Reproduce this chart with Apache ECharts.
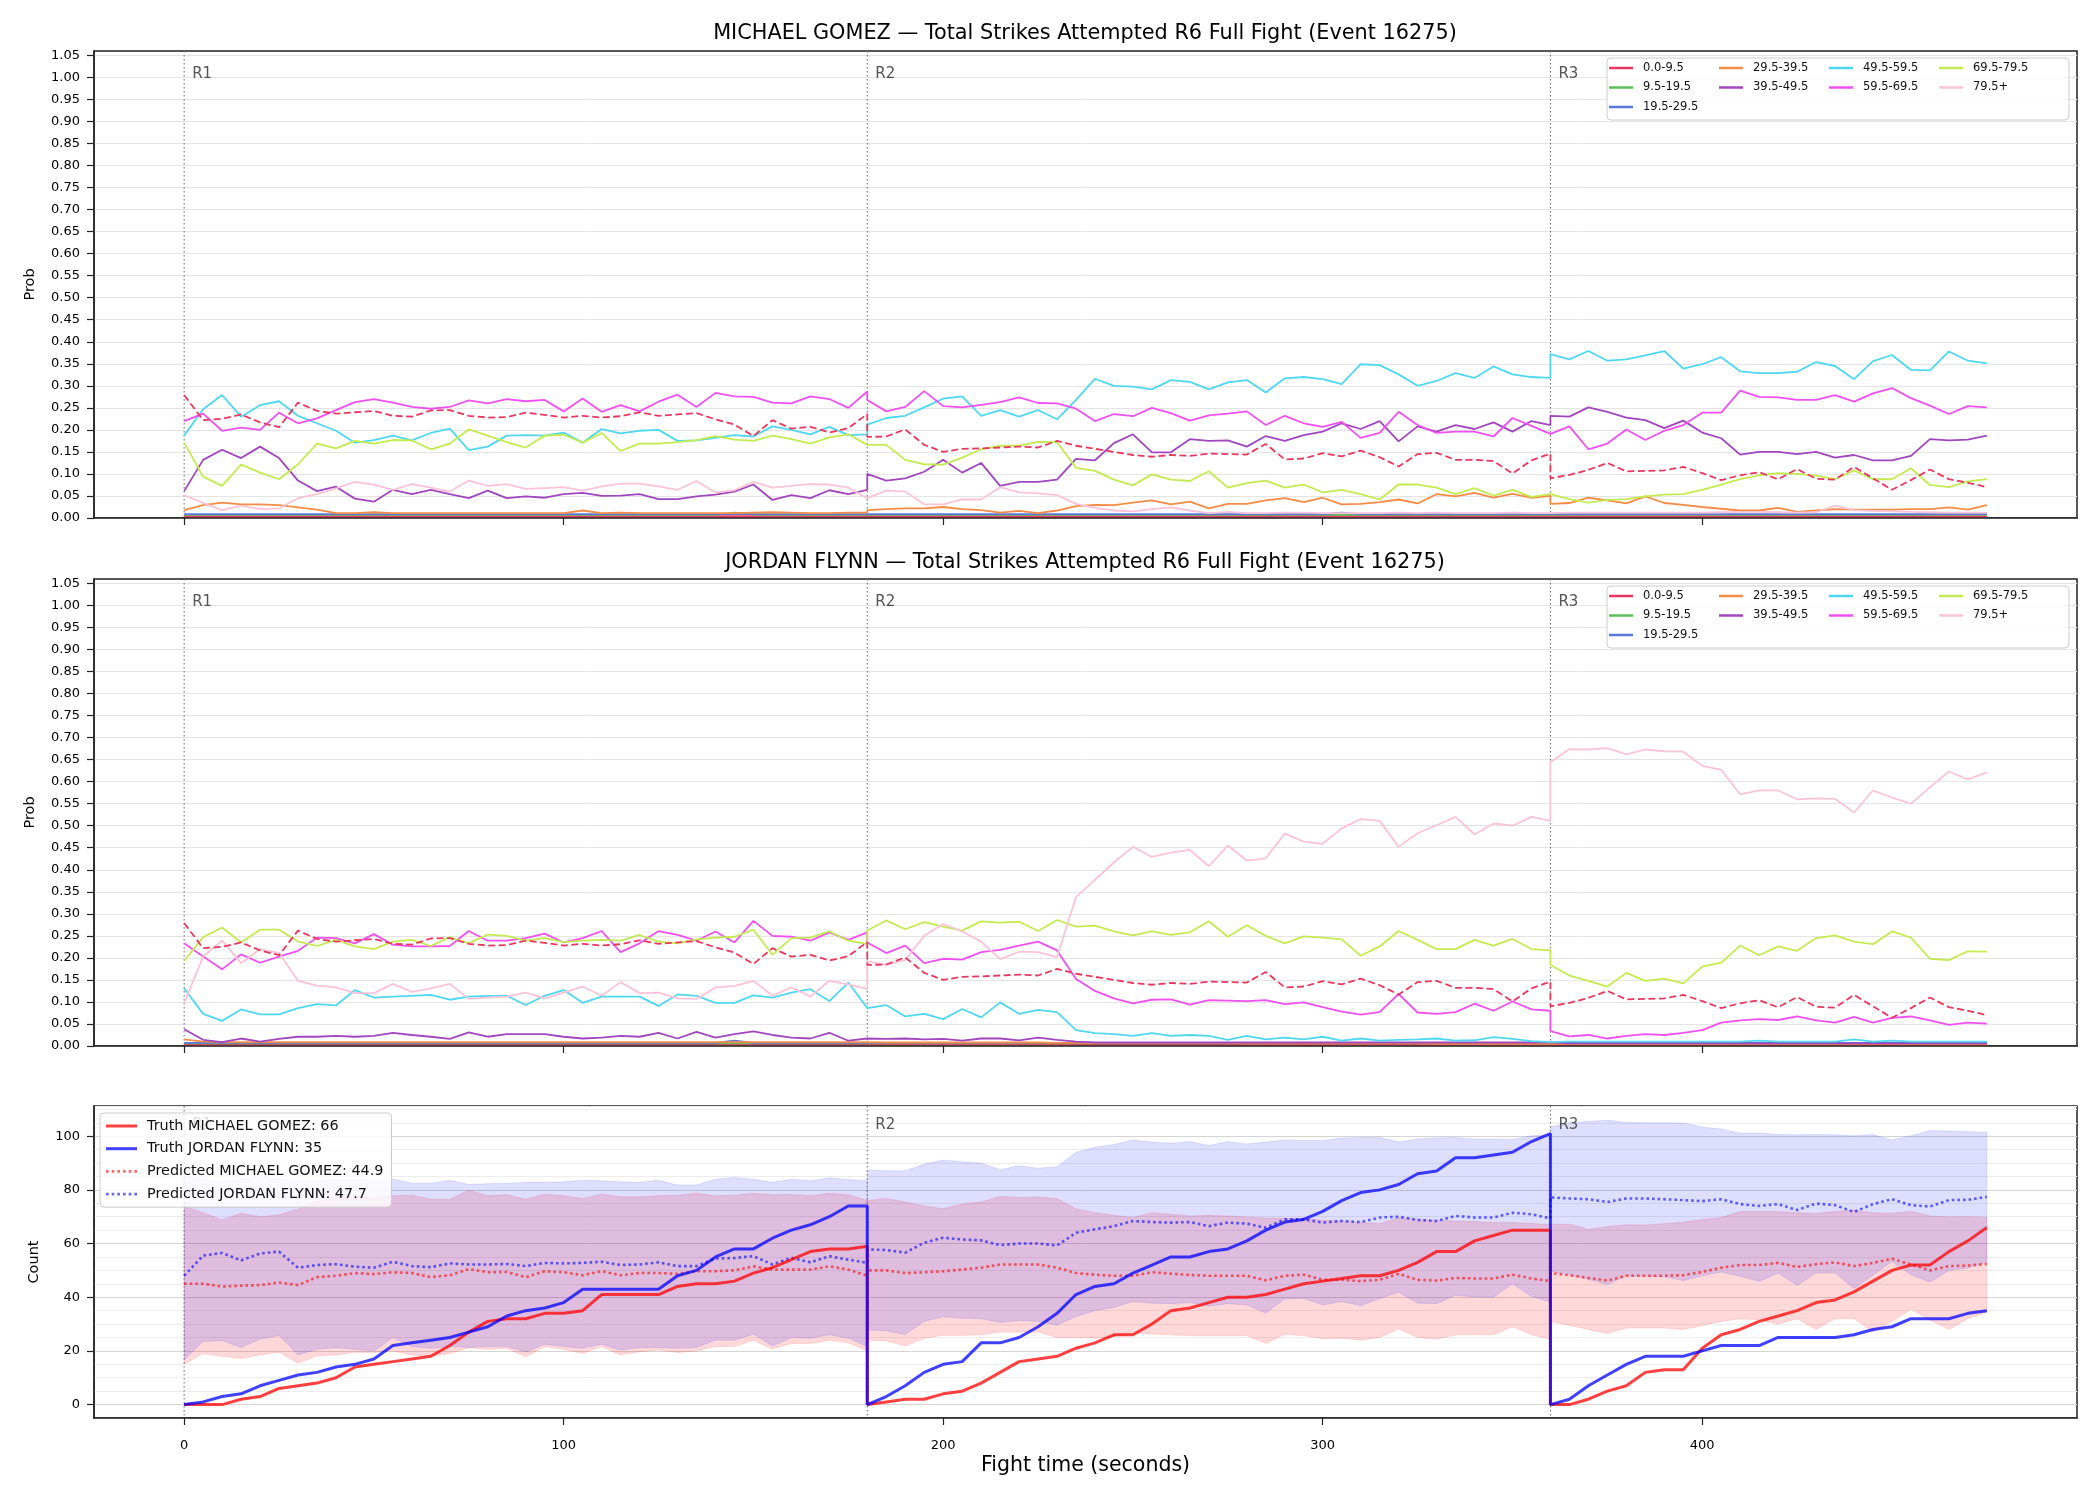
<!DOCTYPE html>
<html>
<head>
<meta charset="utf-8">
<title>Total Strikes Attempted R6 Full Fight</title>
<script src="https://cdn.jsdelivr.net/npm/echarts@6/dist/echarts.min.js"></script>
<style>
html, body { margin: 0; padding: 0; background: #fff; }
#chart { width: 2100px; height: 1500px; }
</style>
</head>
<body>
<div id="chart"></div>
<script>
// rounds and sampling of the fight clock (seconds)
var roundStart = [0, 180, 360];
var roundEnd = [180, 360, 475];
var roundLabels = ['R1', 'R2', 'R3'];
var sampleStep = 5;
var timeTicks = [0, 100, 200, 300, 400];
var probTicks = [0, 0.05, 0.1, 0.15, 0.2, 0.25, 0.3, 0.35, 0.4, 0.45, 0.5, 0.55, 0.6, 0.65, 0.7, 0.75, 0.8, 0.85, 0.9, 0.95, 1.0, 1.05];
var countTicks = [0, 20, 40, 60, 80, 100];

var probBins = ['0.0-9.5', '9.5-19.5', '19.5-29.5', '29.5-39.5', '39.5-49.5', '49.5-59.5', '59.5-69.5', '69.5-79.5', '79.5+'];
var binColors = ['#e8385e', '#5cbf5c', '#5a78dc', '#f58c46', '#a046be', '#50d7f0', '#f050f0', '#c3eb50', '#fac3d7'];

// ---- MICHAEL GOMEZ bin probabilities (R1 | R2 | R3) ----
var gomezBin0 = [].concat(
  [0.004,0.004,0.004,0.004,0.004,0.004,0.004,0.004,0.004,0.004,0.004,0.004,0.004,0.004,0.004,0.004,0.004,0.004,0.004,0.004,0.004,0.004,0.004,0.004,0.004,0.004,0.004,0.004,0.004,0.004,0.004,0.004,0.004,0.004,0.004,0.004,0.004],
  [0.004,0.004,0.004,0.004,0.004,0.004,0.004,0.004,0.004,0.004,0.004,0.004,0.004,0.004,0.004,0.004,0.004,0.004,0.004,0.004,0.004,0.004,0.004,0.004,0.004,0.004,0.004,0.004,0.004,0.004,0.004,0.004,0.004,0.004,0.004,0.004,0.004],
  [0.004,0.004,0.004,0.004,0.004,0.004,0.004,0.004,0.004,0.004,0.004,0.004,0.004,0.004,0.004,0.004,0.004,0.004,0.004,0.004,0.004,0.004,0.004,0.004]);
var gomezBin1 = [].concat(
  [0.007,0.007,0.007,0.007,0.007,0.007,0.007,0.007,0.007,0.007,0.007,0.007,0.007,0.007,0.007,0.007,0.007,0.007,0.007,0.007,0.007,0.007,0.007,0.007,0.007,0.007,0.007,0.007,0.007,0.012,0.008,0.007,0.007,0.007,0.007,0.007,0.007],
  [0.007,0.007,0.007,0.007,0.007,0.007,0.007,0.007,0.007,0.007,0.007,0.007,0.007,0.007,0.007,0.007,0.007,0.007,0.007,0.007,0.007,0.007,0.007,0.007,0.007,0.007,0.007,0.007,0.007,0.007,0.007,0.007,0.007,0.007,0.007,0.007,0.007],
  [0.007,0.007,0.007,0.007,0.007,0.007,0.007,0.007,0.007,0.007,0.007,0.007,0.007,0.007,0.007,0.007,0.007,0.007,0.007,0.007,0.007,0.007,0.007,0.007]);
var gomezBin2 = [].concat(
  [0.009,0.009,0.009,0.009,0.009,0.009,0.009,0.009,0.009,0.009,0.009,0.009,0.009,0.009,0.009,0.009,0.009,0.009,0.009,0.009,0.009,0.009,0.009,0.009,0.009,0.009,0.009,0.009,0.009,0.009,0.009,0.009,0.009,0.009,0.009,0.009,0.009],
  [0.009,0.009,0.009,0.009,0.009,0.009,0.009,0.009,0.009,0.009,0.009,0.009,0.009,0.009,0.009,0.009,0.009,0.009,0.009,0.009,0.009,0.009,0.009,0.009,0.009,0.012,0.009,0.009,0.009,0.009,0.009,0.009,0.009,0.009,0.009,0.009,0.009],
  [0.009,0.009,0.009,0.009,0.009,0.009,0.009,0.009,0.009,0.009,0.009,0.009,0.009,0.009,0.009,0.009,0.009,0.009,0.009,0.009,0.009,0.009,0.009,0.009]);
var gomezBin3 = [].concat(
  [0.018,0.029,0.035,0.031,0.031,0.029,0.024,0.019,0.011,0.011,0.013,0.011,0.011,0.011,0.011,0.011,0.011,0.011,0.011,0.011,0.011,0.017,0.011,0.012,0.011,0.011,0.011,0.011,0.011,0.011,0.012,0.013,0.012,0.011,0.011,0.012,0.012],
  [0.018,0.020,0.022,0.022,0.025,0.020,0.018,0.012,0.016,0.011,0.017,0.027,0.030,0.029,0.035,0.040,0.031,0.037,0.022,0.032,0.032,0.040,0.045,0.036,0.046,0.031,0.032,0.036,0.042,0.033,0.054,0.049,0.057,0.046,0.055,0.046,0.050],
  [0.032,0.034,0.046,0.040,0.033,0.049,0.034,0.030,0.025,0.021,0.017,0.017,0.023,0.014,0.017,0.020,0.019,0.019,0.019,0.020,0.020,0.024,0.019,0.029]);
var gomezBin4 = [].concat(
  [0.061,0.132,0.155,0.136,0.162,0.136,0.085,0.061,0.071,0.044,0.037,0.064,0.054,0.064,0.054,0.045,0.062,0.045,0.049,0.046,0.054,0.057,0.050,0.051,0.054,0.043,0.043,0.049,0.053,0.060,0.076,0.041,0.052,0.045,0.063,0.054,0.064],
  [0.100,0.085,0.090,0.105,0.132,0.103,0.125,0.073,0.082,0.082,0.087,0.134,0.131,0.170,0.190,0.149,0.149,0.179,0.175,0.176,0.162,0.186,0.175,0.188,0.196,0.215,0.202,0.220,0.174,0.208,0.196,0.211,0.202,0.217,0.196,0.220,0.211],
  [0.232,0.230,0.251,0.241,0.228,0.222,0.204,0.221,0.194,0.181,0.144,0.150,0.150,0.145,0.150,0.137,0.143,0.131,0.131,0.141,0.179,0.176,0.178,0.187]);
var gomezBin5 = [].concat(
  [0.187,0.247,0.279,0.230,0.256,0.265,0.232,0.215,0.198,0.171,0.177,0.187,0.176,0.193,0.203,0.154,0.162,0.187,0.188,0.187,0.194,0.171,0.202,0.192,0.198,0.200,0.175,0.176,0.182,0.188,0.185,0.208,0.200,0.190,0.207,0.188,0.190],
  [0.212,0.227,0.232,0.251,0.271,0.276,0.232,0.245,0.230,0.245,0.224,0.268,0.316,0.300,0.298,0.292,0.313,0.309,0.292,0.308,0.313,0.285,0.317,0.320,0.315,0.304,0.349,0.347,0.326,0.300,0.311,0.329,0.318,0.344,0.326,0.320,0.318],
  [0.372,0.360,0.379,0.357,0.360,0.369,0.379,0.339,0.349,0.365,0.333,0.329,0.329,0.332,0.354,0.345,0.315,0.356,0.370,0.336,0.335,0.378,0.357,0.351]);
var gomezBin6 = [].concat(
  [0.220,0.237,0.198,0.205,0.200,0.239,0.215,0.226,0.245,0.263,0.270,0.262,0.252,0.248,0.252,0.267,0.260,0.270,0.265,0.268,0.242,0.271,0.241,0.256,0.242,0.264,0.280,0.252,0.284,0.276,0.275,0.262,0.260,0.276,0.270,0.250,0.287],
  [0.268,0.242,0.252,0.288,0.254,0.251,0.257,0.263,0.274,0.261,0.260,0.248,0.220,0.236,0.231,0.250,0.238,0.221,0.233,0.237,0.242,0.211,0.232,0.215,0.207,0.218,0.182,0.193,0.241,0.211,0.193,0.196,0.196,0.185,0.227,0.209,0.191],
  [0.191,0.208,0.156,0.169,0.201,0.177,0.198,0.211,0.239,0.239,0.289,0.275,0.274,0.268,0.268,0.279,0.264,0.283,0.295,0.272,0.255,0.236,0.254,0.251]);
var gomezBin7 = [].concat(
  [0.171,0.094,0.073,0.121,0.103,0.088,0.122,0.169,0.158,0.175,0.169,0.177,0.176,0.156,0.169,0.201,0.187,0.172,0.160,0.187,0.189,0.171,0.193,0.152,0.169,0.169,0.172,0.177,0.186,0.178,0.175,0.187,0.179,0.169,0.183,0.190,0.166],
  [0.165,0.166,0.132,0.122,0.121,0.137,0.156,0.164,0.164,0.173,0.172,0.114,0.107,0.087,0.074,0.099,0.087,0.084,0.106,0.069,0.079,0.085,0.069,0.076,0.058,0.064,0.054,0.042,0.076,0.076,0.069,0.054,0.068,0.051,0.064,0.048,0.054],
  [0.054,0.043,0.035,0.041,0.043,0.049,0.053,0.054,0.064,0.076,0.088,0.097,0.102,0.100,0.096,0.088,0.108,0.088,0.088,0.113,0.075,0.070,0.083,0.088]);
var gomezBin8 = [].concat(
  [0.052,0.034,0.018,0.028,0.020,0.022,0.045,0.054,0.067,0.082,0.076,0.064,0.077,0.069,0.060,0.085,0.073,0.077,0.066,0.068,0.070,0.062,0.072,0.078,0.078,0.072,0.064,0.084,0.058,0.063,0.082,0.069,0.073,0.077,0.076,0.069,0.045],
  [0.047,0.062,0.060,0.031,0.031,0.042,0.042,0.070,0.058,0.056,0.052,0.032,0.023,0.017,0.015,0.020,0.024,0.017,0.011,0.014,0.011,0.011,0.012,0.012,0.011,0.011,0.011,0.011,0.012,0.011,0.012,0.011,0.011,0.011,0.012,0.011,0.011],
  [0.012,0.012,0.012,0.012,0.012,0.012,0.012,0.012,0.012,0.013,0.014,0.014,0.013,0.012,0.013,0.028,0.018,0.016,0.015,0.014,0.013,0.012,0.012,0.012]);

// ---- JORDAN FLYNN bin probabilities (R1 | R2 | R3) ----
var flynnBin0 = [].concat(
  [0.004,0.004,0.004,0.004,0.004,0.004,0.004,0.004,0.004,0.004,0.004,0.004,0.004,0.004,0.004,0.004,0.004,0.004,0.004,0.004,0.004,0.004,0.004,0.004,0.004,0.004,0.004,0.004,0.004,0.004,0.004,0.004,0.004,0.004,0.004,0.004,0.004],
  [0.004,0.004,0.004,0.004,0.004,0.004,0.004,0.004,0.004,0.004,0.004,0.004,0.004,0.004,0.004,0.004,0.004,0.004,0.004,0.004,0.004,0.004,0.004,0.004,0.004,0.004,0.004,0.004,0.004,0.004,0.004,0.004,0.004,0.004,0.004,0.004,0.004],
  [0.004,0.004,0.004,0.004,0.004,0.004,0.004,0.004,0.004,0.004,0.004,0.004,0.004,0.004,0.004,0.004,0.004,0.004,0.004,0.004,0.004,0.004,0.004,0.004]);
var flynnBin1 = [].concat(
  [0.006,0.006,0.006,0.006,0.006,0.006,0.006,0.006,0.006,0.006,0.006,0.006,0.006,0.006,0.006,0.006,0.006,0.006,0.006,0.006,0.006,0.006,0.006,0.006,0.006,0.006,0.006,0.006,0.006,0.006,0.006,0.006,0.006,0.006,0.006,0.006,0.006],
  [0.006,0.006,0.006,0.006,0.006,0.006,0.006,0.006,0.006,0.006,0.006,0.006,0.006,0.006,0.006,0.006,0.006,0.006,0.006,0.006,0.006,0.006,0.006,0.006,0.006,0.006,0.006,0.006,0.006,0.006,0.006,0.006,0.006,0.006,0.006,0.006,0.006],
  [0.006,0.006,0.006,0.006,0.006,0.006,0.006,0.006,0.006,0.006,0.006,0.006,0.006,0.006,0.006,0.006,0.006,0.006,0.006,0.006,0.006,0.006,0.006,0.006]);
var flynnBin2 = [].concat(
  [0.007,0.007,0.007,0.007,0.007,0.007,0.007,0.007,0.007,0.007,0.007,0.007,0.007,0.007,0.007,0.007,0.007,0.007,0.007,0.007,0.007,0.007,0.007,0.007,0.007,0.007,0.007,0.007,0.007,0.012,0.007,0.007,0.007,0.007,0.007,0.007,0.007],
  [0.007,0.007,0.007,0.007,0.007,0.007,0.007,0.007,0.007,0.007,0.007,0.007,0.007,0.007,0.007,0.007,0.007,0.007,0.007,0.007,0.007,0.007,0.007,0.007,0.007,0.007,0.007,0.007,0.007,0.007,0.007,0.007,0.007,0.007,0.007,0.007,0.007],
  [0.007,0.007,0.007,0.007,0.007,0.007,0.007,0.007,0.007,0.007,0.007,0.007,0.007,0.007,0.007,0.007,0.007,0.007,0.007,0.007,0.007,0.007,0.007,0.007]);
var flynnBin3 = [].concat(
  [0.015,0.010,0.009,0.009,0.009,0.009,0.009,0.009,0.009,0.009,0.009,0.009,0.009,0.009,0.009,0.009,0.009,0.009,0.009,0.009,0.009,0.009,0.009,0.009,0.009,0.009,0.009,0.009,0.009,0.009,0.009,0.009,0.009,0.009,0.009,0.009,0.009],
  [0.008,0.008,0.008,0.008,0.008,0.008,0.008,0.008,0.008,0.008,0.007,0.007,0.007,0.007,0.007,0.007,0.007,0.007,0.007,0.007,0.006,0.006,0.006,0.006,0.006,0.006,0.006,0.006,0.006,0.006,0.005,0.005,0.005,0.005,0.005,0.005,0.005],
  [0.005,0.005,0.005,0.005,0.005,0.005,0.005,0.005,0.005,0.005,0.005,0.005,0.005,0.005,0.005,0.005,0.005,0.005,0.005,0.005,0.005,0.005,0.005,0.005]);
var flynnBin4 = [].concat(
  [0.038,0.014,0.009,0.017,0.010,0.016,0.021,0.021,0.023,0.021,0.023,0.030,0.025,0.021,0.016,0.031,0.021,0.027,0.027,0.027,0.021,0.017,0.019,0.023,0.021,0.030,0.017,0.032,0.019,0.027,0.033,0.025,0.019,0.017,0.030,0.012,0.017],
  [0.017,0.016,0.017,0.015,0.016,0.012,0.017,0.017,0.013,0.019,0.014,0.010,0.008,0.008,0.008,0.008,0.008,0.008,0.008,0.008,0.008,0.008,0.008,0.008,0.008,0.008,0.008,0.008,0.008,0.008,0.008,0.008,0.008,0.008,0.008,0.008,0.008],
  [0.006,0.006,0.006,0.006,0.006,0.006,0.006,0.006,0.006,0.006,0.006,0.006,0.006,0.006,0.006,0.006,0.006,0.006,0.006,0.006,0.006,0.006,0.006,0.006]);
var flynnBin5 = [].concat(
  [0.131,0.073,0.057,0.083,0.072,0.072,0.086,0.095,0.092,0.127,0.110,0.112,0.114,0.116,0.105,0.112,0.114,0.114,0.093,0.114,0.127,0.098,0.112,0.112,0.112,0.091,0.117,0.114,0.098,0.098,0.115,0.110,0.121,0.129,0.102,0.144,0.086],
  [0.086,0.093,0.067,0.073,0.061,0.084,0.065,0.099,0.073,0.082,0.077,0.036,0.029,0.027,0.023,0.029,0.023,0.025,0.023,0.014,0.023,0.015,0.019,0.015,0.021,0.012,0.017,0.012,0.014,0.015,0.017,0.012,0.013,0.020,0.016,0.011,0.009],
  [0.010,0.010,0.010,0.010,0.010,0.010,0.010,0.010,0.010,0.010,0.010,0.012,0.010,0.010,0.010,0.010,0.015,0.010,0.012,0.010,0.010,0.010,0.010,0.010]);
var flynnBin6 = [].concat(
  [0.233,0.203,0.174,0.208,0.189,0.203,0.216,0.246,0.245,0.233,0.254,0.230,0.226,0.226,0.227,0.261,0.239,0.239,0.245,0.255,0.235,0.245,0.261,0.213,0.233,0.261,0.252,0.239,0.260,0.235,0.284,0.250,0.248,0.239,0.258,0.241,0.258],
  [0.235,0.211,0.228,0.188,0.198,0.196,0.213,0.218,0.228,0.237,0.217,0.152,0.125,0.108,0.097,0.105,0.106,0.094,0.104,0.103,0.102,0.104,0.095,0.099,0.088,0.078,0.071,0.077,0.118,0.076,0.073,0.077,0.096,0.080,0.101,0.083,0.080],
  [0.034,0.022,0.025,0.017,0.023,0.027,0.025,0.030,0.036,0.053,0.058,0.061,0.059,0.067,0.058,0.053,0.066,0.053,0.064,0.067,0.058,0.048,0.053,0.051]);
var flynnBin7 = [].concat(
  [0.193,0.247,0.269,0.235,0.264,0.264,0.237,0.227,0.241,0.226,0.220,0.237,0.241,0.227,0.247,0.233,0.253,0.250,0.239,0.245,0.236,0.239,0.241,0.239,0.252,0.237,0.233,0.242,0.246,0.248,0.264,0.207,0.245,0.246,0.260,0.239,0.232],
  [0.262,0.285,0.265,0.281,0.271,0.262,0.283,0.280,0.282,0.261,0.286,0.271,0.273,0.260,0.251,0.260,0.252,0.258,0.283,0.248,0.274,0.250,0.233,0.249,0.246,0.242,0.205,0.226,0.261,0.241,0.220,0.220,0.241,0.228,0.243,0.220,0.217],
  [0.184,0.160,0.148,0.135,0.166,0.148,0.153,0.142,0.180,0.189,0.228,0.206,0.226,0.216,0.245,0.251,0.237,0.231,0.260,0.246,0.198,0.195,0.215,0.214]);
var flynnBin8 = [].concat(
  [0.097,0.203,0.239,0.188,0.220,0.211,0.148,0.137,0.133,0.120,0.120,0.141,0.123,0.131,0.141,0.107,0.110,0.112,0.121,0.108,0.121,0.135,0.114,0.145,0.120,0.121,0.108,0.107,0.133,0.136,0.148,0.114,0.133,0.112,0.148,0.140,0.129],
  [0.192,0.184,0.195,0.250,0.277,0.260,0.237,0.197,0.214,0.213,0.202,0.338,0.377,0.417,0.452,0.429,0.439,0.445,0.408,0.455,0.421,0.426,0.482,0.464,0.459,0.494,0.515,0.511,0.452,0.483,0.501,0.520,0.480,0.505,0.500,0.520,0.511],
  [0.644,0.674,0.673,0.676,0.662,0.673,0.669,0.668,0.636,0.627,0.571,0.580,0.580,0.560,0.562,0.561,0.530,0.580,0.564,0.550,0.587,0.623,0.605,0.621]);

// dashed reference line drawn in both probability panels (no legend entry)
var dashedRef = [].concat(
  [0.279,0.222,0.225,0.235,0.217,0.206,0.262,0.243,0.237,0.240,0.243,0.232,0.230,0.244,0.245,0.232,0.228,0.229,0.239,0.234,0.228,0.232,0.228,0.231,0.240,0.232,0.235,0.238,0.224,0.212,0.186,0.222,0.203,0.207,0.194,0.204,0.236],
  [0.184,0.185,0.201,0.166,0.150,0.157,0.158,0.160,0.162,0.160,0.175,0.164,0.157,0.150,0.143,0.139,0.143,0.141,0.146,0.145,0.144,0.168,0.133,0.135,0.147,0.140,0.153,0.138,0.117,0.145,0.148,0.132,0.132,0.129,0.101,0.131,0.146],
  [0.090,0.098,0.109,0.125,0.106,0.107,0.108,0.116,0.102,0.086,0.097,0.104,0.088,0.111,0.089,0.087,0.116,0.090,0.064,0.086,0.110,0.088,0.080,0.070]);

// ---- counts panel ----
var truthGomez = [].concat(
  [0,0,0,2,3,6,7,8,10,14,15,16,17,18,22,27,31,32,32,34,34,35,41,41,41,41,44,45,45,46,49,51,54,57,58,58,59],
  [0,1,2,2,4,5,8,12,16,17,18,21,23,26,26,30,35,36,38,40,40,41,43,45,46,47,48,48,50,53,57,57,61,63,65,65,65],
  [0,0,2,5,7,12,13,13,21,26,28,31,33,35,38,39,42,46,50,52,52,57,61,66]);
var truthFlynn = [].concat(
  [0,1,3,4,7,9,11,12,14,15,17,22,23,24,25,27,29,33,35,36,38,43,43,43,43,43,48,50,55,58,58,62,65,67,70,74,74],
  [0,3,7,12,15,16,23,23,25,29,34,41,44,45,49,52,55,55,57,58,61,65,68,69,72,76,79,80,82,86,87,92,92,93,94,98,101],
  [0,2,7,11,15,18,18,18,20,22,22,22,25,25,25,25,26,28,29,32,32,32,34,35]);
var predGomez = [].concat(
  [45,45,44,44.3,44.5,45.5,44.5,47.5,48,49,48.6,49.3,49,47.5,48.2,50.5,49.3,49.4,47.5,49.7,49.3,48.2,49.7,48.2,49,49,48.7,49.7,49.7,50,51.5,50.3,50.3,50.3,51.5,50.3,48],
  [50,50,49,49.3,49.7,50.3,51,52.2,52.2,52.2,51,49,48.4,48,48,49.3,48.8,48.3,48,48,48,46.3,48,48.4,46.5,46.5,46,46.5,48.7,46.5,46.2,47.2,47,47,48.4,47,46],
  [49,48.2,47.2,46.2,48,48,48,48.2,49.4,51,52,52,52.8,51.3,52.3,53,51.6,52.8,54.3,52.2,50,51.6,51.8,52.4]);
var predFlynn = [].concat(
  [48,55.5,56.5,53.7,56.3,57,51,52,52.3,51.4,51,53.2,51.6,51.2,52.6,52.2,52.2,52.4,51.6,52.8,52.6,52.8,53.2,52,52.2,53,51.6,51.6,54.4,54.6,55.3,52.2,54.7,53,55.3,54,52.8],
  [57.8,57.6,56.6,60.3,62.2,61.5,61.2,59.4,60,60,59.3,64,65.3,66.5,68.4,68,67.8,68,66.5,67.8,67.4,65.9,69,69,67.8,68.4,68,69.7,70,68.8,68.4,70.3,69.7,69.7,71.5,70.9,69.4],
  [77.2,76.8,76.5,75.5,76.8,76.8,76.5,76.2,75.8,76.5,74.7,74,74.7,72.5,74.9,74.3,71.8,74.7,76.5,74.3,73.8,76.2,76.3,77.4]);
var bandHiGomez = [].concat(
  [74,71.5,68.8,71.3,70,70.7,72.8,76,77.5,78,77,77.8,78,76.5,76.5,79.9,77.8,78.2,76.5,78.4,77.8,76.8,78.4,77.4,77.4,77.8,78,78.7,77.8,78,78.7,78.2,78.3,77.8,78.7,78.2,76],
  [76,76.8,75.5,74,73,74.7,75.5,77.5,77.2,77.3,76.8,73,71.5,70.5,69.7,71.5,70.9,70.3,70.5,70.3,69.9,69.4,69.4,69.3,68.7,68.4,67.8,67.4,69.7,69,68.7,68.4,68.2,67.8,67.8,67.5,67],
  [67.2,67.2,65.3,66.3,67,66.9,67.4,67.9,69,69.7,71.9,71.9,71.9,71.5,71.2,71.9,72.4,71.5,71.3,72,70.3,69.9,70,69.7]);
var bandLoGomez = [].concat(
  [15,19,18,17.2,18.5,19.5,15.4,18.2,18.5,19.5,19.4,20,18.5,18,19,21.2,20.6,21,17.8,21.6,20.6,19,21.6,18.5,19.7,20.3,19.4,20,21.6,21.6,24,20.7,22.8,22.8,24,23,20],
  [24,23.8,21.8,24.7,25.8,25.8,26,27,27,27,25,25,24.7,25.3,26.6,26.3,26,25.7,25.7,25.7,25.7,22.8,26.2,25.7,24.5,24.7,24,25,28.2,25,24.3,26,26,26,29,26,24.3],
  [31,29.5,28,26.5,28.5,28.5,28.5,28,29.5,31,32,31.5,30,32,28,32,32,27,31,35.5,31.5,28,32,34.5]);
var bandHiFlynn = [].concat(
  [85,84,83,84,85,84,83.5,83.5,84,84,83.5,84,82.5,82.5,83.6,82,82.3,82.5,82.8,82.8,83,83.6,83.4,83,82.8,83.6,81.8,81.8,84,84.6,84,82.8,84,83.4,84.5,83.9,83.4],
  [87.4,87.1,87.1,89.6,91.1,90.5,90,87.5,89,88.1,88.6,94,95.9,96.9,98.6,97.8,97.4,98,96.5,98,97.1,97.8,98.6,98.4,98.4,99.3,99.5,99.6,97.8,99,99.4,99.5,99,99,98.8,100.2,100.6],
  [103.4,105,105.5,105.9,105.2,105,105,104.9,103.4,102.7,101.1,101.2,100.6,100.5,100.6,100.5,100.2,100.6,98.6,100.2,102.1,101.9,101.7,101.5]);
var bandLoFlynn = [].concat(
  [16.6,23.5,23.8,21.3,24.3,25.7,18.5,20.6,21.2,20.6,20,25,21.6,21,21.6,21.3,21.6,21.6,19.6,22.5,21.6,21,22.5,20.3,21.2,21.3,21,21.3,24,24,26.2,21.8,25,24.7,26,24.7,21.6],
  [27.8,27.5,26,31,32.7,32.2,32,30.6,31.3,31,29.6,32.8,35,36.2,38.4,37.8,37.6,38,36.6,37.6,37.1,34.1,39.3,39.5,37.1,38.4,36.8,39.5,41.9,37.8,37.6,40.7,40.1,40,45,40.3,38.2],
  [49.7,48.4,46.6,44.7,48,47.8,47.6,46.2,48,49.4,47.8,45.9,49,44.4,49,49,43.2,48.2,53.4,48.4,45.6,50,50.9,53]);

var countLegend = ['Truth MICHAEL GOMEZ: 66', 'Truth JORDAN FLYNN: 35', 'Predicted MICHAEL GOMEZ: 44.9', 'Predicted JORDAN FLYNN: 47.7'];

// sample times: each round is sampled every 5 s, round edges are repeated
var fightTime = [];
var roundOf = [];
roundStart.forEach(function (s, r) {
  for (var t = s; t <= roundEnd[r]; t += sampleStep) {
    fightTime.push(t);
    roundOf.push(r);
  }
});

function toPoints(values) {
  return values.map(function (v, i) { return [fightTime[i], v]; });
}

var FONT = 'DejaVu Sans';
var gomezBins = [gomezBin0, gomezBin1, gomezBin2, gomezBin3, gomezBin4, gomezBin5, gomezBin6, gomezBin7, gomezBin8];
var flynnBins = [flynnBin0, flynnBin1, flynnBin2, flynnBin3, flynnBin4, flynnBin5, flynnBin6, flynnBin7, flynnBin8];

var gridLeft = 94, gridWidth = 1983;
var probTop = [51, 579];
var probHeight = 467;
var PROB_MAX = 1.06;
var COUNT_MIN = -5, COUNT_MAX = 111.25;
// dotted legend handle (six square dots)
var DOT_ICON = 'path://M0,0h2.6v2.6h-2.6z M5.6,0h2.6v2.6h-2.6z M11.2,0h2.6v2.6h-2.6z M16.8,0h2.6v2.6h-2.6z M22.4,0h2.6v2.6h-2.6z M28,0h2.6v2.6h-2.6z';

function xAxisFor(idx, withLabels) {
  return {
    gridIndex: idx, type: 'value', min: -23.75, max: 498.75,
    splitLine: { show: false },
    axisLine: { show: true, onZero: false, lineStyle: { color: '#222', width: 1.5 } },
    axisTick: { show: true, length: 7, customValues: timeTicks, lineStyle: { color: '#222', width: 1.2 } },
    axisLabel: { show: withLabels, customValues: timeTicks, fontSize: 13, color: '#000', margin: 21, fontFamily: FONT },
    name: withLabels ? 'Fight time (seconds)' : '',
    nameLocation: 'middle', nameGap: 37,
    nameTextStyle: { fontSize: 20.5, color: '#000', fontFamily: FONT }
  };
}

function probYAxis(idx) {
  return {
    gridIndex: idx, type: 'value', min: 0, max: PROB_MAX, interval: 0.05,
    axisLine: { show: true, onZero: false, lineStyle: { color: '#222', width: 1.5 } },
    axisTick: { show: true, length: 7, customValues: probTicks, lineStyle: { color: '#222', width: 1.2 } },
    axisLabel: { customValues: probTicks, fontSize: 13, color: '#000', margin: 14, fontFamily: FONT,
      formatter: function (v) { return v.toFixed(2); } },
    splitLine: { show: true, lineStyle: { color: '#e4e4e4', width: 1 } },
    name: 'Prob', nameLocation: 'middle', nameGap: 56,
    nameTextStyle: { fontSize: 14.5, color: '#000', fontFamily: FONT }
  };
}

function probLine(panel, values, i) {
  return {
    type: 'line', name: probBins[i], xAxisIndex: panel, yAxisIndex: panel,
    data: toPoints(values), symbol: 'none', showSymbol: false, z: 3,
    lineStyle: { width: 1.8, color: binColors[i] }, itemStyle: { color: binColors[i] }
  };
}

function dashedLine(panel) {
  return {
    type: 'line', name: 'reference', xAxisIndex: panel, yAxisIndex: panel,
    data: toPoints(dashedRef), symbol: 'none', showSymbol: false, z: 4,
    lineStyle: { width: 1.8, color: '#e8385e', type: [7, 3.5] }, itemStyle: { color: '#e8385e' }
  };
}

function roundMarkers(panel, yAxisIndex, yTop, yBottom, labelOffset) {
  return {
    type: 'custom', xAxisIndex: panel, yAxisIndex: yAxisIndex, silent: true, z: 1,
    data: roundStart.map(function (t, r) { return [t, r]; }),
    renderItem: function (params, api) {
      var top = api.coord([api.value(0), yTop]);
      var bot = api.coord([api.value(0), yBottom]);
      return {
        type: 'group',
        children: [
          { type: 'line', shape: { x1: top[0], y1: top[1], x2: bot[0], y2: bot[1] },
            style: { stroke: '#666', lineWidth: 1, lineDash: [1.5, 2.5] } },
          { type: 'text', x: top[0] + 8, y: top[1] + labelOffset,
            style: { text: roundLabels[api.value(1)], fill: '#555', font: '15px "DejaVu Sans"',
              align: 'left', verticalAlign: 'top', textAlign: 'left', textVerticalAlign: 'top' } }
        ]
      };
    }
  };
}

function bandSeries(lo, hi, fill, edge) {
  return {
    type: 'custom', xAxisIndex: 2, yAxisIndex: 2, silent: true, z: 1,
    data: roundStart.map(function (t, r) { return [t, r]; }),
    renderItem: function (params, api) {
      var r = api.value(1);
      var upper = [], lower = [];
      for (var i = 0; i < fightTime.length; i++) {
        if (roundOf[i] !== r) continue;
        upper.push(api.coord([fightTime[i], hi[i]]));
        lower.unshift(api.coord([fightTime[i], lo[i]]));
      }
      return { type: 'polygon', shape: { points: upper.concat(lower) },
        style: { fill: fill, stroke: edge, lineWidth: 1 } };
    }
  };
}

function countLine(name, values, color, width, dash, z) {
  return {
    type: 'line', name: name, xAxisIndex: 2, yAxisIndex: 2,
    data: toPoints(values), symbol: 'none', showSymbol: false, z: z,
    lineStyle: { width: width, color: color, type: dash }, itemStyle: { color: color }
  };
}

// column-major legend of the probability panels (4 columns)
var legendColumns = [
  ['0.0-9.5', '9.5-19.5', '19.5-29.5'],
  ['29.5-39.5', '39.5-49.5'],
  ['49.5-59.5', '59.5-69.5'],
  ['69.5-79.5', '79.5+']
];
var legendColLeft = [1609, 1719, 1829, 1939];

var legends = [];
[0, 1].forEach(function (p) {
  legendColumns.forEach(function (col, c) {
    legends.push({
      orient: 'vertical', left: legendColLeft[c], top: probTop[p] + 11,
      padding: 0, itemWidth: 24, itemHeight: 2.5, itemGap: 7.5, icon: 'rect',
      selectedMode: false, data: col, z: 6,
      textStyle: { fontSize: 11.5, color: '#111', fontFamily: FONT, lineHeight: 12, padding: [0, 0, 0, 5] }
    });
  });
});
legends.push({
  orient: 'vertical', left: 100, top: 1113,
  padding: [6, 8, 6, 6], itemWidth: 31, itemHeight: 3, itemGap: 8.7,
  backgroundColor: 'rgba(255,255,255,0.8)', borderColor: '#cccccc', borderWidth: 1, borderRadius: 4,
  selectedMode: false, z: 6,
  data: [
    { name: countLegend[0], icon: 'rect' },
    { name: countLegend[1], icon: 'rect' },
    { name: countLegend[2], icon: DOT_ICON },
    { name: countLegend[3], icon: DOT_ICON }
  ],
  textStyle: { fontSize: 14.4, color: '#111', fontFamily: FONT, lineHeight: 14, padding: [0, 0, 0, 5] }
});

var series = [];
gomezBins.forEach(function (v, i) { series.push(probLine(0, v, i)); });
series.push(dashedLine(0));
series.push(roundMarkers(0, 0, PROB_MAX, 0, 16));
flynnBins.forEach(function (v, i) { series.push(probLine(1, v, i)); });
series.push(dashedLine(1));
series.push(roundMarkers(1, 1, PROB_MAX, 0, 16));
series.push(bandSeries(bandLoGomez, bandHiGomez, 'rgba(255,0,0,0.15)', 'rgba(255,0,0,0.12)'));
series.push(bandSeries(bandLoFlynn, bandHiFlynn, 'rgba(0,0,255,0.13)', 'rgba(0,0,255,0.1)'));
series.push(roundMarkers(2, 2, COUNT_MAX, COUNT_MIN, 12));
series.push(countLine(countLegend[0], truthGomez, 'rgba(255,0,0,0.75)', 3, 'solid', 5));
series.push(countLine(countLegend[1], truthFlynn, 'rgba(0,0,255,0.75)', 3, 'solid', 5));
series.push(countLine(countLegend[2], predGomez, 'rgba(255,0,0,0.6)', 2.6, [2.6, 3], 4));
series.push(countLine(countLegend[3], predFlynn, 'rgba(0,0,255,0.6)', 2.6, [2.6, 3], 4));

var option = {
  animation: false,
  backgroundColor: '#ffffff',
  textStyle: { fontFamily: FONT },
  grid: [
    { left: gridLeft, top: probTop[0], width: gridWidth, height: probHeight, show: true, borderColor: '#222', borderWidth: 1.5, backgroundColor: 'transparent' },
    { left: gridLeft, top: probTop[1], width: gridWidth, height: probHeight, show: true, borderColor: '#222', borderWidth: 1.5, backgroundColor: 'transparent' },
    { left: gridLeft, top: 1106, width: gridWidth, height: 312, show: true, borderColor: '#222', borderWidth: 1.5, backgroundColor: 'transparent' }
  ],
  xAxis: [xAxisFor(0, false), xAxisFor(1, false), xAxisFor(2, true)],
  yAxis: [
    probYAxis(0),
    probYAxis(1),
    {
      gridIndex: 2, type: 'value', min: COUNT_MIN, max: COUNT_MAX,
      axisLine: { show: true, onZero: false, lineStyle: { color: '#222', width: 1.5 } },
      axisTick: { show: true, length: 7, customValues: countTicks, lineStyle: { color: '#222', width: 1.2 } },
      axisLabel: { customValues: countTicks, fontSize: 13, color: '#000', margin: 14, fontFamily: FONT },
      splitLine: { show: false },
      name: 'Count', nameLocation: 'middle', nameGap: 52,
      nameTextStyle: { fontSize: 14.5, color: '#000', fontFamily: FONT }
    },
    {
      // light grid every 5 counts, darker on the labelled values
      gridIndex: 2, type: 'value', min: COUNT_MIN, max: COUNT_MAX, interval: 5, position: 'left',
      axisLine: { show: false, onZero: false }, axisTick: { show: false }, axisLabel: { show: false },
      splitLine: { show: true, lineStyle: { color: ['#ececec', '#d4d4d4', '#ececec', '#ececec'], width: 1 } }
    }
  ],
  legend: legends,
  graphic: [
    { type: 'rect', z: 5, shape: { x: 1607, y: probTop[0] + 7, width: 462, height: 62, r: 4 },
      style: { fill: 'rgba(255,255,255,0.8)', stroke: '#cccccc', lineWidth: 1 } },
    { type: 'rect', z: 5, shape: { x: 1607, y: probTop[1] + 7, width: 462, height: 62, r: 4 },
      style: { fill: 'rgba(255,255,255,0.8)', stroke: '#cccccc', lineWidth: 1 } },
    { type: 'text', z: 5, x: 1085, y: 34,
      style: { text: 'MICHAEL GOMEZ \u2014 Total Strikes Attempted R6 Full Fight (Event 16275)', fill: '#000',
        font: '20.8px "DejaVu Sans"', align: 'center', verticalAlign: 'middle', textAlign: 'center', textVerticalAlign: 'middle' } },
    { type: 'text', z: 5, x: 1085, y: 563,
      style: { text: 'JORDAN FLYNN \u2014 Total Strikes Attempted R6 Full Fight (Event 16275)', fill: '#000',
        font: '20.8px "DejaVu Sans"', align: 'center', verticalAlign: 'middle', textAlign: 'center', textVerticalAlign: 'middle' } }
  ],
  series: series
};

var chart = echarts.init(document.getElementById('chart'));
chart.setOption(option);
</script>
</body>
</html>
